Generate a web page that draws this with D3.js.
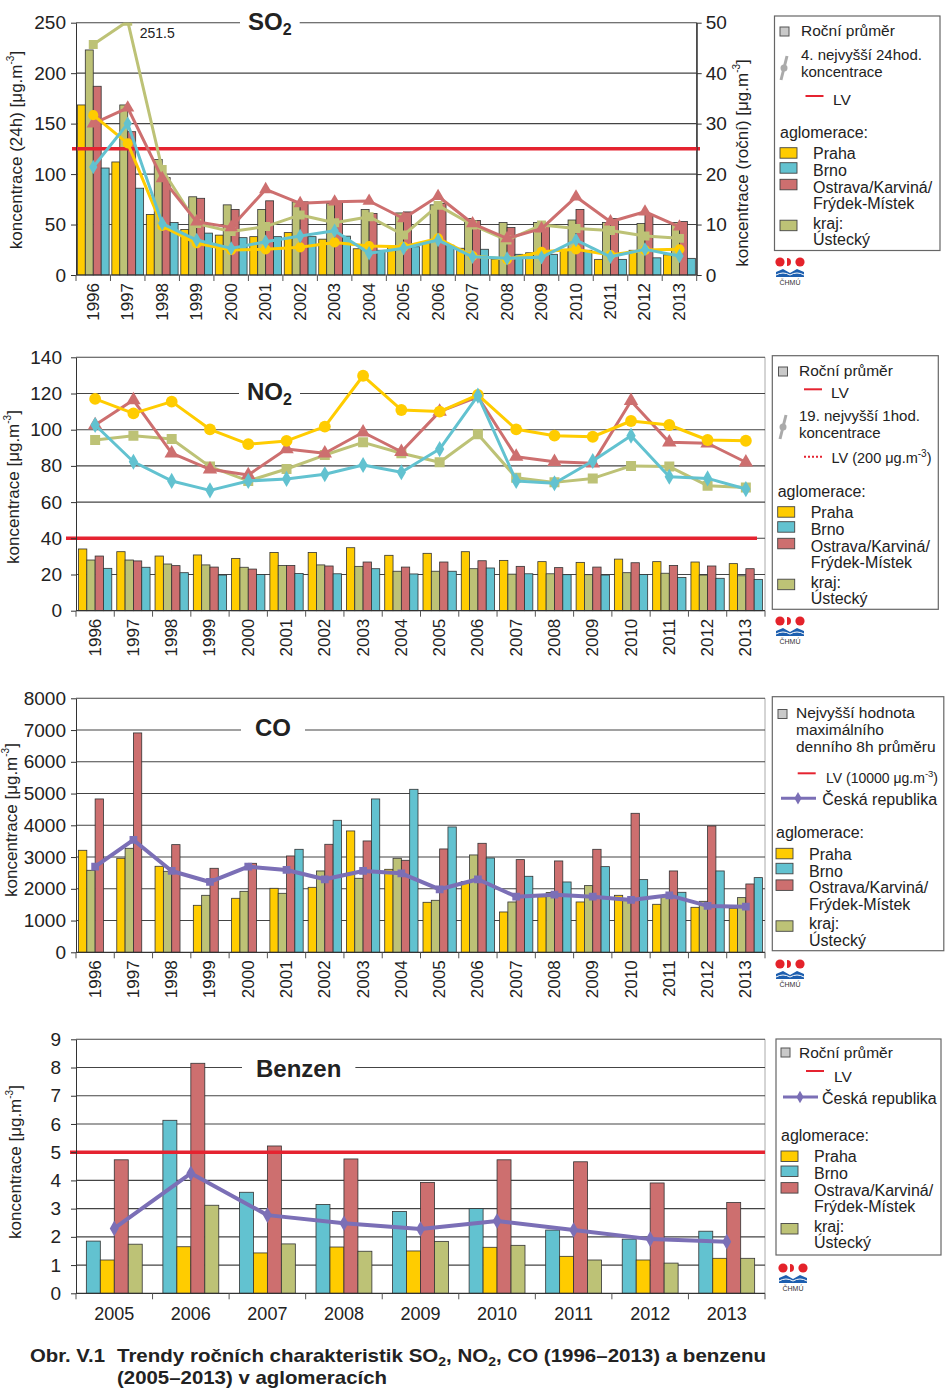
<!DOCTYPE html>
<html lang="cs">
<head>
<meta charset="UTF-8">
<title>Trendy ročních charakteristik SO2, NO2, CO a benzenu</title>
<script src="https://d3js.org/d3.v7.min.js"></script>
<style>
  body { margin: 0; background: #fff; }
  svg { display: block; }
</style>
</head>
<body>
<script>
// ---------- data ----------
const yearsLong = [1996, 1997, 1998, 1999, 2000, 2001, 2002, 2003, 2004, 2005, 2006, 2007, 2008, 2009, 2010, 2011, 2012, 2013];
const yearsBenzen = [2005, 2006, 2007, 2008, 2009, 2010, 2011, 2012, 2013];

// SO2 roční průměr (pravá osa)
const so2AvgPraha   = [33.7, 22.4, 12.0, 9.0, 7.9, 7.6, 8.4, 7.1, 5.2, 5.6, 6.6, 5.3, 3.1, 4.4, 5.1, 3.1, 4.9, 4.0];
const so2AvgUsti    = [44.6, 33.7, 22.9, 15.5, 13.9, 13.0, 14.5, 14.2, 13.0, 12.3, 13.9, 11.2, 10.4, 10.4, 10.9, 10.4, 10.2, 10.4];
const so2AvgOstrava = [37.4, 28.4, 19.3, 15.2, 13.0, 14.7, 14.5, 14.6, 12.2, 12.5, 14.2, 10.8, 9.4, 9.6, 13.0, 11.2, 12.0, 10.6];
const so2AvgBrno    = [21.2, 17.2, 10.4, 8.3, 7.4, 7.6, 7.6, 7.7, 4.9, 5.6, 5.9, 5.1, 4.1, 4.1, 4.9, 3.1, 3.4, 3.3];
// SO2 4. nejvyšší 24h koncentrace (levá osa)
const so2MaxPraha   = [158.4, 130.4, 48.5, 31.4, 24.7, 25.4, 27.4, 32.3, 28.7, 28.0, 36.3, 18.8, 15.5, 23.0, 25.4, 19.8, 24.7, 25.4];
const so2MaxBrno    = [107, 150, 51, 34.6, 26.4, 33, 38.6, 43.9, 21.5, 26.4, 34.6, 18, 16.5, 17.5, 34.6, 18, 25.4, 18.8];
const so2MaxOstrava = [150, 165.7, 95.7, 52.8, 47.2, 84.8, 71, 72.6, 73.3, 56, 78, 51, 36.3, 46, 77.5, 52.8, 62.7, 47.8];
const so2MaxUsti    = [228.4, 251.5, 104.6, 51, 43, 48, 59.5, 51.8, 57.8, 39.6, 69, 49.5, 34.6, 49.5, 46, 44, 38.6, 36.3];

// NO2 roční průměr
const no2AvgPraha   = [34.1, 32.6, 30.2, 30.8, 28.9, 32.2, 32.2, 34.8, 30.6, 31.7, 32.6, 27.8, 27.1, 26.7, 28.5, 27.1, 26.9, 26.0];
const no2AvgUsti    = [28.0, 28.0, 25.8, 25.3, 24.0, 25.0, 25.3, 24.5, 21.8, 21.8, 23.2, 20.2, 20.4, 19.9, 21.0, 20.7, 19.7, 19.3];
const no2AvgOstrava = [30.2, 27.5, 24.9, 24.1, 23.0, 25.0, 24.7, 26.9, 24.1, 26.9, 27.6, 24.5, 23.8, 24.1, 26.5, 25.0, 24.7, 23.2];
const no2AvgBrno    = [23.4, 24.0, 21.0, 19.7, 20.0, 20.6, 20.4, 23.2, 20.3, 21.8, 23.6, 20.4, 19.9, 19.7, 20.0, 18.4, 17.9, 17.3];
// NO2 19. nejvyšší 1h koncentrace
const no2MaxPraha   = [117, 109, 115.5, 100.2, 92, 93.8, 101.7, 129.8, 110.9, 110, 119.2, 100.2, 96.7, 96.1, 104.8, 102.6, 94.3, 93.9];
const no2MaxOstrava = [102.6, 116.4, 87, 78.1, 75, 89.3, 87, 98.6, 87.8, 110, 118.2, 85.1, 82.3, 81.4, 115.9, 93, 92.5, 82];
const no2MaxUsti    = [94.3, 96.7, 94.9, 79.6, 71.7, 78.3, 86, 93, 87, 82, 97.5, 73.5, 70.9, 73.1, 80, 79.6, 69.1, 68];
const no2MaxBrno    = [102.6, 82.3, 71.7, 66.5, 71.7, 72.8, 75.4, 80.5, 76.5, 89.3, 118.8, 71.7, 70.4, 82.7, 96.7, 74, 73.1, 67.2];

// CO nejvyšší max. denní 8h průměr
const coPraha   = [3213, 2961, 2709, 1480, 1701, 2016, 2047, 3822, 2614, 1575, 2226, 1270, 1750, 1585, 1795, 1512, 1417, 1386];
const coUsti    = [2583, 3276, 2551, 1795, 1921, 1858, 2562, 2331, 2961, 1638, 3066, 1585, 1880, 2100, 1700, 1753, 1606, 1722];
const coOstrava = [4830, 6909, 3391, 2646, 2803, 3034, 3402, 3507, 2898, 3255, 3433, 2919, 2877, 3244, 4378, 2562, 3979, 2152];
const coBrno    = [null, null, null, null, null, 3244, 4158, 4830, 5134, 3948, 2971, 2394, 2215, 2698, 2289, 1890, 2562, 2352];
const coCR      = [2698, 3538, 2562, 2215, 2698, 2593, 2300, 2562, 2488, 1984, 2300, 1753, 1816, 1753, 1648, 1795, 1460, 1438];

// Benzen roční průměr
const bzBrno    = [1.85, 6.13, 3.58, 3.15, 2.9, 3.0, 2.24, 1.92, 2.2];
const bzPraha   = [1.18, 1.65, 1.43, 1.64, 1.5, 1.63, 1.31, 1.18, 1.24];
const bzOstrava = [4.73, 8.15, 5.22, 4.76, 3.93, 4.73, 4.66, 3.91, 3.22];
const bzUsti    = [1.74, 3.12, 1.75, 1.49, 1.84, 1.7, 1.18, 1.07, 1.24];
const bzCR      = [2.3, 4.25, 2.77, 2.48, 2.28, 2.56, 2.24, 1.92, 1.83];

// tick labels
const so2Ticks = [0, 50, 100, 150, 200, 250];
const so2RightTicks = [0, 10, 20, 30, 40, 50];
const no2Ticks = [0, 20, 40, 60, 80, 100, 120, 140];
const coTicks = [0, 1000, 2000, 3000, 4000, 5000, 6000, 7000, 8000];
const bzTicks = [0, 1, 2, 3, 4, 5, 6, 7, 8, 9];

const regionNames = [["Praha"], ["Brno"], ["Ostrava/Karviná/", "Frýdek-Místek"], ["kraj:", "Ústecký"]];

// ---------- styles ----------
const FONT = "'Liberation Sans', Arial, Helvetica, sans-serif";
const C = {
  praha: "#FFCC00", brno: "#62C2D0", ostrava: "#CD6F6F", usti: "#BDC276",
  cr: "#7B6FB6", lv: "#E52330", ink: "#222", grid: "#444"
};
const regionColors = [C.praha, C.brno, C.ostrava, C.usti];

const svg = d3.select("body").append("svg")
  .attr("width", 945).attr("height", 1394)
  .attr("font-family", FONT);

let clipId = 0;

function drawPanel(c) {
  const g = svg.append("g");
  const x = d3.scaleBand().domain(c.cats).range([c.x0, c.x1]);
  const y = d3.scaleLinear().domain([0, c.max]).range([c.y1, c.y0]);
  const yb = c.barMax ? d3.scaleLinear().domain([0, c.barMax]).range([c.y1, c.y0]) : y;
  const xs = d3.scaleBand().domain(c.bars.map(b => b.key))
    .range([0, x.bandwidth()]).paddingInner(0).paddingOuter(c.barPad);
  const cx = d => x(d) + x.bandwidth() / 2;

  // right border
  g.append("line").attr("x1", c.x1).attr("x2", c.x1).attr("y1", c.y0).attr("y2", c.y1)
    .attr("stroke", c.barMax ? "#333" : "#aaa").attr("stroke-width", 1);

  // grid
  g.append("g").selectAll("line").data(c.ticks.filter(t => t > 0)).join("line")
    .attr("x1", c.x0).attr("x2", c.x1)
    .attr("y1", d => y(d)).attr("y2", d => y(d))
    .attr("stroke", C.grid).attr("stroke-width", 1.1);

  // title
  const t = g.append("text").attr("x", c.titleX).attr("y", c.titleY)
    .attr("font-size", 24).attr("font-weight", "bold").attr("fill", C.ink);
  t.append("tspan").text(c.title[0]);
  if (c.title[1]) t.append("tspan").attr("font-size", 16).attr("dy", 5).text(c.title[1]);
  const bb = t.node().getBBox();
  g.insert("rect", () => t.node())
    .attr("x", bb.x - c.titlePad).attr("y", bb.y)
    .attr("width", bb.width + 2 * c.titlePad).attr("height", bb.height)
    .attr("fill", "#fff");

  // bars
  c.bars.forEach(b => {
    g.append("g").selectAll("rect")
      .data(c.cats.map((cat, i) => ({ cat, v: b.values[i] })).filter(d => d.v != null))
      .join("rect")
      .attr("x", d => x(d.cat) + xs(b.key))
      .attr("width", xs.bandwidth())
      .attr("y", d => yb(d.v))
      .attr("height", d => c.y1 - yb(d.v))
      .attr("fill", b.color)
      .attr("stroke", "#333").attr("stroke-width", 0.8);
  });

  // limit value
  if (c.lv != null) {
    g.append("line")
      .attr("x1", c.lvX[0]).attr("x2", c.lvX[1])
      .attr("y1", y(c.lv)).attr("y2", y(c.lv))
      .attr("stroke", C.lv).attr("stroke-width", 3.5);
  }

  // lines
  const id = "clip" + (clipId++);
  g.append("clipPath").attr("id", id).append("rect")
    .attr("x", c.x0).attr("y", c.y0).attr("width", c.x1 - c.x0).attr("height", c.y1 - c.y0 + 10);
  const lg = g.append("g").attr("clip-path", `url(#${id})`);
  const line = d3.line().x(d => cx(d.cat)).y(d => y(d.v));
  c.lines.forEach(s => {
    const pts = c.cats.map((cat, i) => ({ cat, v: s.values[i] }));
    lg.append("path").datum(pts).attr("d", line)
      .attr("fill", "none").attr("stroke", s.color).attr("stroke-width", s.width)
      .attr("stroke-linejoin", "round");
    lg.append("g").selectAll("path").data(pts).join("path")
      .attr("transform", d => `translate(${cx(d.cat)},${y(d.v)})`)
      .attr("d", d3.symbol().type(s.symbol).size(s.size))
      .attr("fill", s.color);
  });

  // axes
  const ax = g.append("g").attr("transform", `translate(${c.x0},0)`)
    .call(d3.axisLeft(y).tickValues(c.ticks).tickFormat(d3.format("d"))
      .tickSize(5).tickSizeOuter(0).tickPadding(c.tickPad));
  ax.attr("font-family", FONT).attr("font-size", 19);
  ax.select(".domain").attr("stroke", "#333");
  ax.selectAll(".tick line").attr("stroke", "#333");
  ax.selectAll(".tick text").attr("fill", C.ink);

  if (c.barMax) {
    const ar = g.append("g").attr("transform", `translate(${c.x1},0)`)
      .call(d3.axisRight(yb).tickValues(c.rightTicks).tickSize(5).tickSizeOuter(0).tickPadding(4));
    ar.attr("font-family", FONT).attr("font-size", 19);
    ar.select(".domain").attr("stroke", "#333");
    ar.selectAll(".tick line").attr("stroke", "#333");
    ar.selectAll(".tick text").attr("fill", C.ink);
  }

  // x axis
  g.append("line").attr("x1", c.x0).attr("x2", c.x1).attr("y1", c.y1).attr("y2", c.y1)
    .attr("stroke", "#333").attr("stroke-width", 1.2);
  g.append("g").selectAll("line").data(c.cats.map(d => x(d)).concat([c.x1])).join("line")
    .attr("x1", d => d).attr("x2", d => d).attr("y1", c.y1).attr("y2", c.y1 + 6)
    .attr("stroke", "#555");
  if (c.rotate) {
    g.append("g").selectAll("text").data(c.cats).join("text")
      .attr("transform", d => `translate(${cx(d)},${c.y1 + 8}) rotate(-90)`)
      .attr("text-anchor", "end").attr("dominant-baseline", "central")
      .attr("font-size", 17).attr("fill", C.ink).text(d => d);
  } else {
    g.append("g").selectAll("text").data(c.cats).join("text")
      .attr("x", d => cx(d)).attr("y", c.y1 + 27)
      .attr("text-anchor", "middle")
      .attr("font-size", 18).attr("fill", C.ink).text(d => d);
  }

  // axis titles
  c.axisTitles.forEach(a => {
    const tt = g.append("text")
      .attr("transform", `translate(${a.x},${a.y}) rotate(-90)`)
      .attr("text-anchor", "middle").attr("dominant-baseline", "central")
      .attr("font-size", 17).attr("fill", C.ink);
    tt.append("tspan").text(a.text + " [μg.m");
    tt.append("tspan").attr("font-size", 10).attr("dy", -6).text("-3");
    tt.append("tspan").attr("dy", 6).text("]");
  });

  return { g, x, y, cx };
}

// ---------- legend helpers ----------
function legendBox(x, y, w, h) {
  svg.append("rect").attr("x", x).attr("y", y).attr("width", w).attr("height", h)
    .attr("fill", "#fff").attr("stroke", "#666").attr("stroke-width", 1.2);
}
function ltext(x, y, lines, size, lh) {
  const t = svg.append("text").attr("x", x).attr("y", y).attr("font-size", size).attr("fill", C.ink);
  lines.forEach((l, i) => t.append("tspan").attr("x", x).attr("dy", i ? lh : 0).text(l));
  return t;
}
function avgSquare(x, y) {
  svg.append("rect").attr("x", x).attr("y", y).attr("width", 9).attr("height", 9)
    .attr("fill", "#c9c9c9").attr("stroke", "#555").attr("stroke-width", 1);
}
function lvSample(x, y, dotted) {
  svg.append("line").attr("x1", x).attr("x2", x + 18).attr("y1", y).attr("y2", y)
    .attr("stroke", C.lv).attr("stroke-width", 2)
    .attr("stroke-dasharray", dotted ? "2,2" : null);
}
function greyMarker(x, y) {
  svg.append("line").attr("x1", x + 4).attr("y1", y).attr("x2", x - 2).attr("y2", y + 24)
    .attr("stroke", "#aaa").attr("stroke-width", 3);
  svg.append("circle").attr("cx", x + 1).attr("cy", y + 12).attr("r", 3.5).attr("fill", "#aaa");
}
function crSample(x, y) {
  svg.append("line").attr("x1", x).attr("x2", x + 35).attr("y1", y).attr("y2", y)
    .attr("stroke", C.cr).attr("stroke-width", 3);
  svg.append("path").attr("transform", `translate(${x + 17},${y})`)
    .attr("d", d3.symbol().type(d3.symbolDiamond).size(45)).attr("fill", C.cr);
}
function regions(x, b) {
  ltext(x, b, ["aglomerace:"], 16, 0);
  const sw = [10, 25, 41.6, 82.5];
  const tb = [21.3, 38.3, 55, 91];
  regionNames.forEach((n, i) => {
    svg.append("rect").attr("x", x).attr("y", b + sw[i]).attr("width", 17).attr("height", 10.5)
      .attr("fill", regionColors[i]).attr("stroke", "#444").attr("stroke-width", 0.9);
    ltext(x + 33, b + tb[i], n, 16, 16.2);
  });
}
function logo(x, y) {
  svg.append("circle").attr("cx", x + 5).attr("cy", y + 5).attr("r", 4.6).attr("fill", "#E4232B");
  svg.append("circle").attr("cx", x + 25).attr("cy", y + 5).attr("r", 4.6).attr("fill", "#E4232B");
  svg.append("path").attr("d", `M${x + 12},${y + 1} A4,4 0 0 1 ${x + 12},${y + 9} Z`).attr("fill", "#E4232B");
  svg.append("path").attr("d", `M${x + 13},${y + 5} A4,4 0 0 0 ${x + 13},${y + 1}`).attr("fill", "#E4232B");
  svg.append("path")
    .attr("d", `M${x + 1},${y + 20} L${x + 1},${y + 15} L${x + 8},${y + 12} L${x + 15},${y + 16} L${x + 22},${y + 12} L${x + 29},${y + 15} L${x + 29},${y + 20} Z`)
    .attr("fill", "#1D5FAF");
  svg.append("path")
    .attr("d", `M${x + 1},${y + 18} Q${x + 8},${y + 14} ${x + 15},${y + 18} Q${x + 22},${y + 14} ${x + 29},${y + 18}`)
    .attr("fill", "none").attr("stroke", "#fff").attr("stroke-width", 1);
  svg.append("text").attr("x", x + 15).attr("y", y + 28).attr("text-anchor", "middle")
    .attr("font-size", 7).attr("fill", "#333").text("ČHMÚ");
}

const syms = { praha: d3.symbolCircle, brno: d3.symbolDiamond, ostrava: d3.symbolTriangle, usti: d3.symbolSquare };

// ---------- SO2 ----------
const so2 = drawPanel({
  cats: yearsLong, x0: 76, x1: 696.7, y0: 22.7, y1: 275,
  max: 250, ticks: so2Ticks, barMax: 50, rightTicks: so2RightTicks, tickPad: 5,
  barPad: 0.17, rotate: true, lv: 125, lvX: [72, 700],
  title: ["SO", "2"], titleX: 248, titleY: 30, titlePad: 8,
  bars: [
    { key: "praha", values: so2AvgPraha, color: C.praha },
    { key: "usti", values: so2AvgUsti, color: C.usti },
    { key: "ostrava", values: so2AvgOstrava, color: C.ostrava },
    { key: "brno", values: so2AvgBrno, color: C.brno }
  ],
  lines: [
    { values: so2MaxUsti, color: C.usti, symbol: syms.usti, size: 80, width: 3 },
    { values: so2MaxOstrava, color: C.ostrava, symbol: syms.ostrava, size: 75, width: 3 },
    { values: so2MaxPraha, color: C.praha, symbol: syms.praha, size: 80, width: 3 },
    { values: so2MaxBrno, color: C.brno, symbol: syms.brno, size: 60, width: 3 }
  ],
  axisTitles: [
    { x: 16, y: 150, text: "koncentrace (24h)" },
    { x: 742, y: 163, text: "koncentrace (roční)" }
  ]
});
so2.g.append("text").attr("x", so2.cx(1997) + 12).attr("y", 38)
  .attr("font-size", 14).attr("fill", C.ink).text(so2MaxUsti[1]);

legendBox(774.5, 16, 165.5, 234.5);
avgSquare(780, 27);
ltext(801, 36, ["Roční průměr"], 15.5, 0);
greyMarker(783, 56);
ltext(801, 60, ["4. nejvyšší 24hod.", "koncentrace"], 15, 17);
lvSample(805.5, 96);
ltext(833, 105, ["LV"], 15.5, 0);
regions(780, 137.7);
logo(775, 257);

// ---------- NO2 ----------
drawPanel({
  cats: yearsLong, x0: 76, x1: 765, y0: 357.3, y1: 610.7,
  max: 140, ticks: no2Ticks, tickPad: 9,
  barPad: 0.3, rotate: true, lv: 40, lvX: [66, 757],
  title: ["NO", "2"], titleX: 247, titleY: 400, titlePad: 8,
  bars: [
    { key: "praha", values: no2AvgPraha, color: C.praha },
    { key: "usti", values: no2AvgUsti, color: C.usti },
    { key: "ostrava", values: no2AvgOstrava, color: C.ostrava },
    { key: "brno", values: no2AvgBrno, color: C.brno }
  ],
  lines: [
    { values: no2MaxUsti, color: C.usti, symbol: syms.usti, size: 100, width: 3 },
    { values: no2MaxOstrava, color: C.ostrava, symbol: syms.ostrava, size: 90, width: 3 },
    { values: no2MaxPraha, color: C.praha, symbol: syms.praha, size: 110, width: 3 },
    { values: no2MaxBrno, color: C.brno, symbol: syms.brno, size: 75, width: 3 }
  ],
  axisTitles: [{ x: 13, y: 487, text: "koncentrace" }]
});

legendBox(772.3, 355.7, 166, 253.6);
avgSquare(778.5, 367);
ltext(799, 376, ["Roční průměr"], 15.5, 0);
lvSample(804, 389.3);
ltext(831, 398.3, ["LV"], 15.5, 0);
greyMarker(782, 415);
ltext(799, 421, ["19. nejvyšší 1hod.", "koncentrace"], 15, 17.3);
lvSample(804, 456.7, true);
{
  const t = ltext(831.5, 463.3, ["LV (200 μg.m"], 14.5, 0);
  t.append("tspan").attr("font-size", 10).attr("dy", -6).text("-3");
  t.append("tspan").attr("dy", 6).text(")");
}
regions(777.7, 496.7);
logo(775, 616);

// ---------- CO ----------
drawPanel({
  cats: yearsLong, x0: 76, x1: 765, y0: 698.3, y1: 952.3,
  max: 8000, ticks: coTicks, tickPad: 5,
  barPad: 0.3, rotate: true, lv: null,
  title: ["CO"], titleX: 255, titleY: 736, titlePad: 14,
  bars: [
    { key: "praha", values: coPraha, color: C.praha },
    { key: "usti", values: coUsti, color: C.usti },
    { key: "ostrava", values: coOstrava, color: C.ostrava },
    { key: "brno", values: coBrno, color: C.brno }
  ],
  lines: [
    { values: coCR, color: C.cr, symbol: d3.symbolSquare, size: 60, width: 4 }
  ],
  axisTitles: [{ x: 11, y: 820, text: "koncentrace" }]
});

legendBox(772.3, 696.7, 171.5, 254);
avgSquare(778, 709.5);
ltext(796, 718.3, ["Nejvyšší hodnota", "maximálního", "denního 8h průměru"], 15.5, 17);
lvSample(797.7, 773.3);
{
  const t = ltext(826, 783.3, ["LV (10000 μg.m"], 14, 0);
  t.append("tspan").attr("font-size", 9.5).attr("dy", -6).text("-3");
  t.append("tspan").attr("dy", 6).text(")");
}
crSample(781, 798.3);
ltext(822.3, 805, ["Česká republika"], 16, 0);
regions(776, 838.3);
logo(775, 959);

// ---------- Benzen ----------
drawPanel({
  cats: yearsBenzen, x0: 76, x1: 765, y0: 1039.3, y1: 1293.3,
  max: 9, ticks: bzTicks, tickPad: 10,
  barPad: 0.74, rotate: false, lv: 5, lvX: [70, 765],
  title: ["Benzen"], titleX: 256, titleY: 1077, titlePad: 14,
  bars: [
    { key: "brno", values: bzBrno, color: C.brno },
    { key: "praha", values: bzPraha, color: C.praha },
    { key: "ostrava", values: bzOstrava, color: C.ostrava },
    { key: "usti", values: bzUsti, color: C.usti }
  ],
  lines: [
    { values: bzCR, color: C.cr, symbol: d3.symbolDiamond, size: 70, width: 4 }
  ],
  axisTitles: [{ x: 15, y: 1162, text: "koncentrace" }]
});

legendBox(776, 1039, 165, 216);
avgSquare(781, 1048);
ltext(799, 1058, ["Roční průměr"], 15.5, 0);
lvSample(806, 1071);
ltext(834, 1082, ["LV"], 15.5, 0);
crSample(783, 1097);
ltext(822, 1104, ["Česká republika"], 16, 0);
regions(781, 1141);
logo(778, 1263);

// ---------- caption ----------
const cap = svg.append("g").attr("font-weight", "bold").attr("fill", C.ink)
  .attr("font-family", "'Liberation Sans Narrow', 'Liberation Sans', Arial, sans-serif")
  .attr("font-size", 19);
cap.append("text").attr("x", 30).attr("y", 1362)
  .attr("textLength", 75).attr("lengthAdjust", "spacingAndGlyphs").text("Obr. V.1");
const l1 = cap.append("text").attr("x", 117).attr("y", 1362)
  .attr("textLength", 649).attr("lengthAdjust", "spacingAndGlyphs");
l1.append("tspan").text("Trendy ročních charakteristik SO");
l1.append("tspan").attr("font-size", 13).attr("dy", 4).text("2");
l1.append("tspan").attr("dy", -4).text(", NO");
l1.append("tspan").attr("font-size", 13).attr("dy", 4).text("2");
l1.append("tspan").attr("dy", -4).text(", CO (1996–2013) a benzenu");
cap.append("text").attr("x", 117).attr("y", 1384)
  .attr("textLength", 270).attr("lengthAdjust", "spacingAndGlyphs")
  .text("(2005–2013) v aglomeracích");
</script>
</body>
</html>
